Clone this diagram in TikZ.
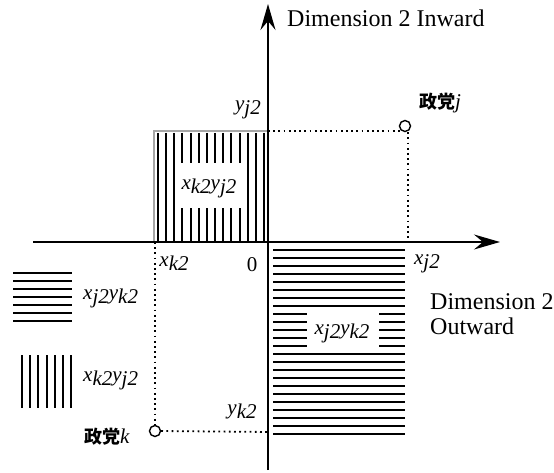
\documentclass[tikz,border=0pt]{standalone}
\usepackage{fontspec}
\setmainfont{Liberation Serif}
\newfontfamily\cjk{Noto Sans CJK JP}
\usetikzlibrary{arrows.meta}
\newcommand{\sbx}[1]{\raisebox{-4pt}{#1}}
\begin{document}
\begin{tikzpicture}[x=1pt,y=-1pt,
  axisline/.style={line width=2pt,-{Stealth[length=26pt,width=15pt,inset=9pt]}},
  hatch/.style={line width=2pt},
  dotline/.style={line width=1.8pt,dash pattern=on 1.8pt off 3.4pt},
  party/.style={circle,draw,line width=1.4pt,fill=white,minimum size=11pt,inner sep=0pt},
  lbl/.style={font=\fontsize{21}{23}\selectfont\itshape,inner sep=1pt},
  whitebox/.style={fill=white,inner sep=0pt},
  big/.style={font=\fontsize{24}{25}\selectfont,inner sep=0pt},
  jp/.style={font=\fontsize{18}{20}\selectfont\cjk\bfseries,inner sep=0pt},
  jvar/.style={font=\fontsize{21}{23}\selectfont\rmfamily\mdseries\itshape}]
\useasboundingbox (0,0) rectangle (554,473);
% upper-left hatched rectangle
\draw[gray!70,line width=1.4pt] (154,131) rectangle (268,242);
\foreach \i in {0,...,13}
  \draw[hatch] ({158+8.15*\i},133) -- ({158+8.15*\i},243);
\node[whitebox,minimum width=68pt,minimum height=45pt] (ulbox) at (209,186) {};
\node[lbl] (ul) at (209,188) {x\sbx{k2}y\sbx{j2}};
% lower-right hatched rectangle
\foreach \i in {0,...,23}
  \draw[hatch] (273,{250+8*\i}) -- (405,{250+8*\i});
\node[whitebox,minimum width=72pt,minimum height=38pt] (lrbox) at (343,330) {};
\node[lbl] (lr) at (342,333) {x\sbx{j2}y\sbx{k2}};
% axes
\coordinate (xs) at (33,242);
\coordinate (xe) at (500,242);
\coordinate (ys) at (268,470);
\coordinate (ye) at (268,4);
\draw[axisline] (xs) -- (xe);
\draw[axisline] (ys) -- (ye);
% parties
\node[party] (pj) at (405,126) {};
\node[party] (pk) at (155,431) {};
\coordinate (yj) at (268,131);
\coordinate (xj) at (408,242);
\coordinate (xk) at (155,242);
\coordinate (yk) at (268,432);
\draw[dotline] (yj) -- (pj.south west |- yj);
\draw[dotline] (pj.south) ++(3pt,0) -- (xj);
\draw[dotline] (xk) -- (pk.north);
\draw[dotline] (pk.east) -- (yk);
% legend
\foreach \i in {0,...,6}
  \draw[hatch] (13,{273+8*\i}) -- (72,{273+8*\i});
\foreach \i in {0,...,6}
  \draw[hatch] ({22+8.2*\i},355) -- ({22+8.2*\i},408);
\node[lbl,anchor=west] (lg1) at (82,298) {x\sbx{j2}y\sbx{k2}};
\node[lbl,anchor=west] (lg2) at (82,380) {x\sbx{k2}y\sbx{j2}};
% tick labels
\node[lbl] (yj2) at (248,110) {y\sbx{j2}};
\node[lbl] (yk2) at (242,411) {y\sbx{k2}};
\node[lbl] (xk2) at (174,263) {x\sbx{k2}};
\node[lbl] (xj2) at (427,264) {x\sbx{j2}};
\node[font=\fontsize{21}{23}\selectfont,inner sep=0pt] (zero) at (252,265) {0};
% axis titles
\node[big,anchor=west] (inw) at (287,18) {Dimension 2 Inward};
\node[big,anchor=north west,align=left] (outw) at (430,293) {Dimension 2\\Outward};
% party labels
\node[jp,anchor=west] (lj) at (419,103) {政党{\fontsize{21}{23}\selectfont\rmfamily\mdseries\itshape j}};
\node[jp,anchor=west] (lk) at (84,437) {政党{\fontsize{21}{23}\selectfont\rmfamily\mdseries\itshape k}};
\end{tikzpicture}
\end{document}
